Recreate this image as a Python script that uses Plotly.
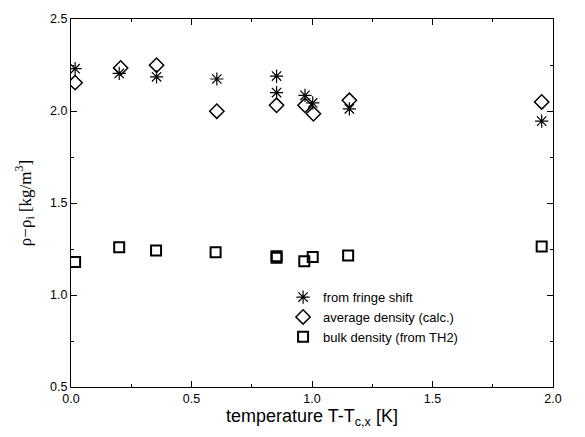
import plotly.graph_objects as go

# data
fringe_T = [0.017, 0.20, 0.355, 0.605, 0.853, 0.853, 0.971, 1.003, 1.155, 1.953]
fringe_rho = [2.23, 2.204, 2.186, 2.174, 2.19, 2.10, 2.085, 2.044, 2.012, 1.945]

avg_T = [0.017, 0.206, 0.355, 0.605, 0.853, 0.971, 1.006, 1.155, 1.953]
avg_rho = [2.154, 2.234, 2.249, 1.999, 2.031, 2.031, 1.985, 2.058, 2.049]

bulk_T = [0.017, 0.20, 0.353, 0.60, 0.853, 0.853, 0.968, 1.003, 1.15, 1.953]
bulk_rho = [1.179, 1.259, 1.242, 1.233, 1.21, 1.203, 1.184, 1.206, 1.215, 1.263]

x_ticks = [0.0, 0.5, 1.0, 1.5, 2.0]
y_ticks = [0.5, 1.0, 1.5, 2.0, 2.5]

fig = go.Figure()
fig.add_trace(go.Scatter(x=fringe_T, y=fringe_rho, mode="markers", name="from fringe shift",
                         marker=dict(symbol="asterisk-open", size=11, color="black",
                                     line=dict(color="black", width=1.2))))
fig.add_trace(go.Scatter(x=avg_T, y=avg_rho, mode="markers", name="average density (calc.)",
                         marker=dict(symbol="diamond-open", size=11, color="black",
                                     line=dict(color="black", width=1.5))))
fig.add_trace(go.Scatter(x=bulk_T, y=bulk_rho, mode="markers", name="bulk density (from TH2)",
                         marker=dict(symbol="square-open", size=10, color="black",
                                     line=dict(color="black", width=2))))

axis_common = dict(showgrid=False, zeroline=False, showline=True, linecolor="black",
                   linewidth=1.2, mirror="allticks", ticks="inside", ticklen=6,
                   tickcolor="black", tickfont=dict(family="Liberation Sans, Arial", size=12.5, color="black"),
                   minor=dict(dtick=0.25, ticks="inside", ticklen=3, tickcolor="black"))

fig.update_xaxes(range=[0, 2.0], tickvals=x_ticks, ticktext=[f"{v:.1f}" for v in x_ticks],
                 title=dict(text="temperature T-T<sub>c,x</sub> [K]",
                            font=dict(family="Liberation Sans, Arial", size=18, color="black"),
                            standoff=2),
                 **axis_common)
fig.update_yaxes(range=[0.5, 2.5], tickvals=y_ticks, ticktext=[f"{v:.1f}" for v in y_ticks],
                 title=dict(text="ρ−ρ<sub>i</sub> [kg/m<sup>3</sup>]",
                            font=dict(family="Liberation Serif, Times New Roman", size=17, color="black"),
                            standoff=14),
                 **axis_common)

fig.update_layout(width=585, height=437, plot_bgcolor="white", paper_bgcolor="white",
                  margin=dict(l=71, r=32, t=13, b=50),
                  legend=dict(x=0.44, y=0.285, xanchor="left", yanchor="top",
                              bgcolor="rgba(0,0,0,0)", tracegroupgap=0, itemwidth=30,
                              font=dict(family="Liberation Sans, Arial", size=13, color="black")))

fig.write_html("out.html")
